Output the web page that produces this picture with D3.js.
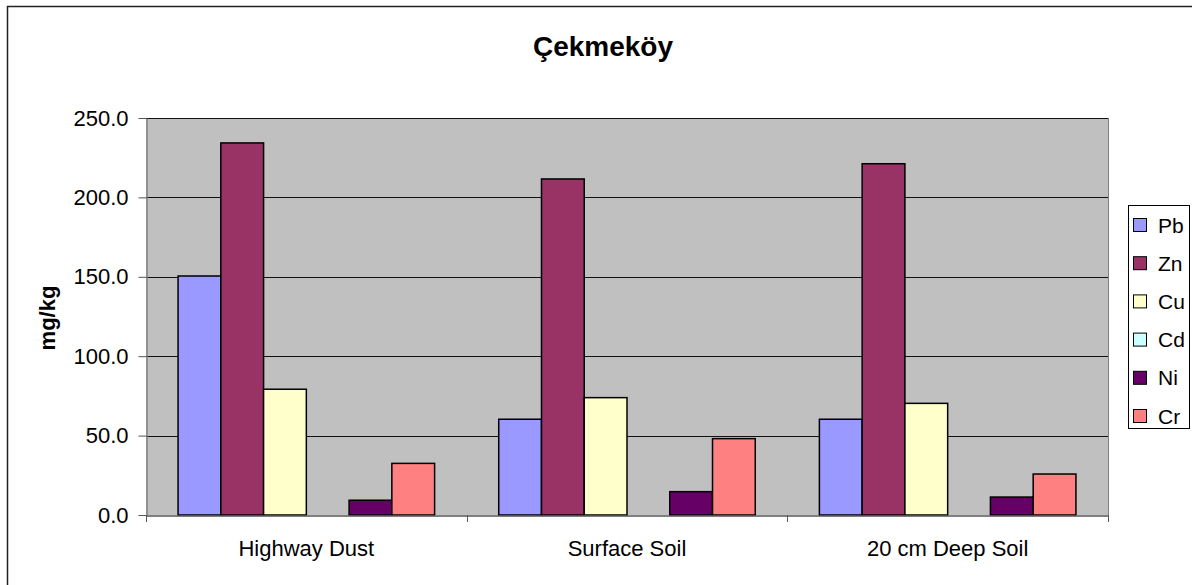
<!DOCTYPE html>
<html>
<head>
<meta charset="utf-8">
<script src="https://cdn.jsdelivr.net/npm/d3@7"></script>
<style>
  body { margin: 0; background: #fff; }
  text { font-family: "Liberation Sans", Arial, sans-serif; }
</style>
</head>
<body>
<script>
// Data
const sites = ["Highway Dust", "Surface Soil", "20 cm Deep Soil"];
const metals = ["Pb", "Zn", "Cu", "Cd", "Ni", "Cr"];
const Pb = [150.5, 60.3, 60.3];
const Zn = [234.3, 211.6, 221.2];
const Cu = [79.2, 73.9, 70.3];
const Cd = [null, null, null];
const Ni = [9.3, 14.7, 11.3];
const Cr = [32.5, 48.1, 25.8];
const yTicks = [0, 50, 100, 150, 200, 250];
const colors = ["#9999FF", "#993366", "#FFFFCC", "#CCFFFF", "#660066", "#FF8080"];

const series = [Pb, Zn, Cu, Cd, Ni, Cr];

// Set Dimensions
const width = 1192;
const height = 585;
const plotLeft = 146, plotRight = 1108, plotTop = 118, plotBottom = 515;

const svg = d3.select("body")
  .append("svg")
  .attr("width", width)
  .attr("height", height);

// outer chart border
svg.append("rect")
  .attr("x", 7.5).attr("y", 6.5)
  .attr("width", width + 20).attr("height", height + 20)
  .attr("fill", "white")
  .attr("stroke", "#222").attr("stroke-width", 1.5);

// Scales
const x = d3.scaleBand()
  .domain(sites)
  .range([plotLeft, plotRight]);

// gap width 150% -> 1.5 bar widths shared between group edges
const x1 = d3.scaleBand()
  .domain(metals)
  .range([0, x.bandwidth()])
  .paddingOuter(0.75)
  .paddingInner(0);

const y = d3.scaleLinear()
  .domain([0, 250])
  .range([plotBottom, plotTop]);

// Plot area
svg.append("rect")
  .attr("x", plotLeft).attr("y", plotTop)
  .attr("width", plotRight - plotLeft).attr("height", plotBottom - plotTop)
  .attr("fill", "#C0C0C0");

// Gridlines
svg.append("g")
  .selectAll("line")
  .data(yTicks.filter(d => d > 0))
  .enter().append("line")
  .attr("x1", plotLeft).attr("x2", plotRight)
  .attr("y1", d => Math.round(y(d)) + 0.5)
  .attr("y2", d => Math.round(y(d)) + 0.5)
  .attr("stroke", "#111").attr("stroke-width", 1);

// right edge of plot area
svg.append("line")
  .attr("x1", plotRight + 0.5).attr("x2", plotRight + 0.5)
  .attr("y1", plotTop).attr("y2", plotBottom)
  .attr("stroke", "#808080");

// Bars
const groups = svg.append("g")
  .selectAll("g")
  .data(sites)
  .enter().append("g")
  .attr("transform", d => "translate(" + x(d) + ",0)");

groups.selectAll("rect")
  .data((d, i) => metals.map((m, j) => ({ metal: m, value: series[j][i], color: colors[j] })))
  .enter()
  .filter(d => d.value != null)
  .append("rect")
  .attr("x", d => x1(d.metal))
  .attr("y", d => y(d.value))
  .attr("width", x1.bandwidth())
  .attr("height", d => y(0) - y(d.value))
  .attr("fill", d => d.color)
  .attr("stroke", "#000")
  .attr("stroke-width", 1.5);

// Y Axis
const yAxis = svg.append("g")
  .attr("transform", "translate(" + (plotLeft + 0.5) + ",0)")
  .call(d3.axisLeft(y).tickValues(yTicks).tickFormat(d3.format(".1f")).tickSize(8).tickSizeOuter(0));
yAxis.select(".domain").attr("stroke", "#808080").attr("stroke-width", 1.5);
yAxis.selectAll(".tick line").attr("stroke", "#555");
yAxis.selectAll(".tick text")
  .attr("x", -18)
  .attr("font-size", 22)
  .attr("font-family", "Liberation Sans, Arial, sans-serif")
  .attr("fill", "#000");

// X Axis
const xAxis = svg.append("g")
  .attr("transform", "translate(0," + (plotBottom + 0.5) + ")")
  .call(d3.axisBottom(x).tickSize(0).tickSizeOuter(0));
xAxis.select(".domain").attr("stroke", "#555").attr("stroke-width", 1.5);
xAxis.selectAll(".tick text")
  .attr("dy", 0)
  .attr("y", 40)
  .attr("font-size", 22)
  .attr("font-family", "Liberation Sans, Arial, sans-serif")
  .attr("fill", "#000");

// category separator ticks
svg.append("g")
  .selectAll("line")
  .data(d3.range(sites.length + 1))
  .enter().append("line")
  .attr("x1", i => Math.round(plotLeft + i * x.step()) + 0.5)
  .attr("x2", i => Math.round(plotLeft + i * x.step()) + 0.5)
  .attr("y1", plotBottom).attr("y2", plotBottom + 7)
  .attr("stroke", "#555");

// Title
svg.append("text")
  .attr("x", 603).attr("y", 56)
  .attr("text-anchor", "middle")
  .attr("font-size", 28).attr("font-weight", "bold")
  .text("Çekmeköy");

// Y label
svg.append("text")
  .attr("transform", "translate(55,318) rotate(-90)")
  .attr("text-anchor", "middle")
  .attr("font-size", 22).attr("font-weight", "bold")
  .text("mg/kg");

// Legend
const legend = svg.append("g");
legend.append("rect")
  .attr("x", 1128.5).attr("y", 205.5)
  .attr("width", 61).attr("height", 223)
  .attr("fill", "white").attr("stroke", "#000");

const item = legend.selectAll(".item")
  .data(metals)
  .enter().append("g")
  .attr("class", "item")
  .attr("transform", (d, i) => "translate(1133," + (225 + i * 38.2) + ")");

item.append("rect")
  .attr("x", 0.5).attr("y", -6.5)
  .attr("width", 13).attr("height", 13)
  .attr("fill", (d, i) => colors[i])
  .attr("stroke", "#000");

item.append("text")
  .attr("x", 25).attr("y", 7.5)
  .attr("font-size", 21)
  .text(d => d);
</script>
</body>
</html>
